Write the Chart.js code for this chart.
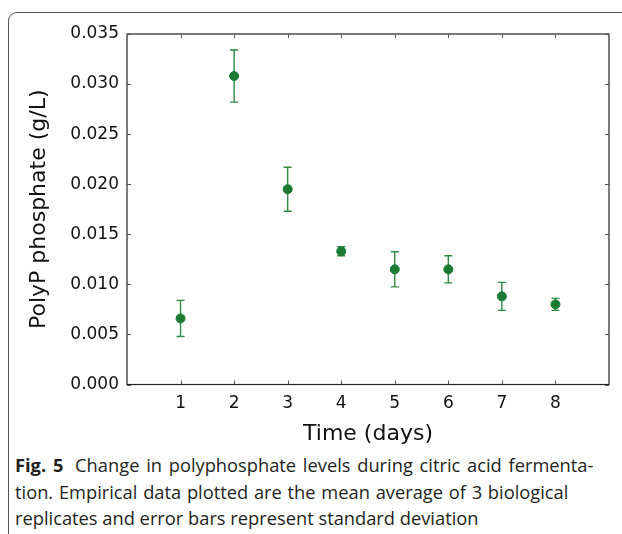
<!DOCTYPE html>
<html>
<head>
<meta charset="utf-8">
<script src="https://cdn.jsdelivr.net/npm/chart.js@4"></script>
<style>
  html, body { margin: 0; padding: 0; background: #fff; }
  body { width: 622px; height: 534px; position: relative; overflow: hidden; }
  #frame {
    position: absolute; left: 8px; top: 12px; width: 700px; height: 600px;
    border-top: 1.3px solid #555; border-left: 1.3px solid #555;
    border-top-left-radius: 9px;
  }
  #chart { position: absolute; left: 0; top: 0; }
  #caption {
    position: absolute; left: 15px; top: 452px; white-space: nowrap;
    font-family: "Open Sans", "Noto Sans", sans-serif; font-size: 18.3px; line-height: 26.5px;
    color: #231f20;
  }
  #caption b { font-weight: 700; margin-right: 5px; }
  #caption .l1 { word-spacing: 2px; }
  #caption .l2 { word-spacing: 1px; }
</style>
</head>
<body>
<div id="frame"></div>
<canvas id="chart" width="622" height="450"></canvas>
<div id="caption"><div class="l1"><b>Fig. 5</b> Change in polyphosphate levels during citric acid fermenta-</div><div class="l2">tion. Empirical data plotted are the mean average of 3 biological</div><div>replicates and error bars represent standard deviation</div></div>
<script>
// days of fermentation, mean polyP (g/L) and standard deviation
var days = [1, 2, 3, 4, 5, 6, 7, 8];
var means = [0.0066, 0.0308, 0.0195, 0.0133, 0.0115, 0.0115, 0.0088, 0.0080];
var sds = [0.0018, 0.0026, 0.0022, 0.00045, 0.00175, 0.00135, 0.0014, 0.0006];
var yTicks = [0, 0.005, 0.01, 0.015, 0.02, 0.025, 0.03, 0.035];

var points = days.map(function (d, i) { return { x: d, y: means[i] }; });

var errorBars = { //les barres d'erreur passent par les echelles du chart
  id: 'errorBars',
  beforeDatasetsDraw: function (chart) {
    var ctx = chart.ctx, xs = chart.scales.x, ys = chart.scales.y;
    ctx.save();
    ctx.strokeStyle = '#2f8a45';
    ctx.lineWidth = 1.4;
    for (var i = 0; i < days.length; i++) {
      var px = xs.getPixelForValue(days[i]);
      var top = ys.getPixelForValue(means[i] + sds[i]);
      var bot = ys.getPixelForValue(means[i] - sds[i]);
      ctx.beginPath();
      ctx.moveTo(px, top); ctx.lineTo(px, bot);
      ctx.moveTo(px - 4, top); ctx.lineTo(px + 4, top);
      ctx.moveTo(px - 4, bot); ctx.lineTo(px + 4, bot);
      ctx.stroke();
    }
    ctx.restore();
  }
};

var frameTicks = { // cadre + graduations vers l'interieur sur les 4 cotes
  id: 'frameTicks',
  afterDraw: function (chart) {
    var ctx = chart.ctx, a = chart.chartArea, xs = chart.scales.x, ys = chart.scales.y;
    ctx.save();
    ctx.strokeStyle = '#222';
    ctx.lineWidth = 1.2;
    ctx.strokeRect(a.left, a.top, a.right - a.left, a.bottom - a.top);
    ctx.strokeStyle = '#555';
    ctx.lineWidth = 1;
    ctx.beginPath();
    days.forEach(function (d) {
      var px = Math.round(xs.getPixelForValue(d)) + 0.5;
      ctx.moveTo(px, a.bottom); ctx.lineTo(px, a.bottom - 4);
      ctx.moveTo(px, a.top); ctx.lineTo(px, a.top + 4);
    });
    yTicks.forEach(function (v) {
      var py = Math.round(ys.getPixelForValue(v)) + 0.5;
      ctx.moveTo(a.left, py); ctx.lineTo(a.left + 4, py);
      ctx.moveTo(a.right, py); ctx.lineTo(a.right - 4, py);
    });
    ctx.stroke();
    ctx.restore();
  }
};

new Chart(document.getElementById('chart'), {
  type: 'scatter',
  data: {
    datasets: [{
      data: points,
      backgroundColor: '#1a7a33',
      borderColor: '#1a7a33',
      pointRadius: 4.5,
      pointHoverRadius: 4.5
    }]
  },
  options: {
    responsive: false,
    animation: false,
    layout: { padding: { top: 34, right: 13, left: 0, bottom: 0 } },
    plugins: { legend: { display: false }, tooltip: { enabled: false } },
    scales: {
      x: {
        type: 'linear', min: 0, max: 9,
        afterBuildTicks: function (s) { s.ticks = days.map(function (d) { return { value: d }; }); },
        afterFit: function (s) { s.height = 65.5; },
        grid: { display: false, drawTicks: false },
        border: { display: false },
        ticks: { padding: 9, color: '#111', font: { family: 'DejaVu Sans', size: 17 } },
        title: { display: true, text: 'Time (days)', color: '#111', padding: { top: 0, bottom: 3 },
                 font: { family: 'DejaVu Sans', size: 22 } }
      },
      y: {
        type: 'linear', min: 0, max: 0.035,
        afterBuildTicks: function (s) { s.ticks = yTicks.map(function (v) { return { value: v }; }); },
        afterFit: function (s) { s.width = 127; },
        grid: { display: false, drawTicks: false },
        border: { display: false },
        ticks: { padding: 8, color: '#111', font: { family: 'DejaVu Sans', size: 17 },
                 callback: function (v) { return v.toFixed(3); } },
        title: { display: true, text: 'PolyP phosphate (g/L)', color: '#111', padding: { top: 26, bottom: 0 },
                 font: { family: 'DejaVu Sans', size: 22 } }
      }
    }
  },
  plugins: [errorBars, frameTicks]
});
</script>
</body>
</html>
